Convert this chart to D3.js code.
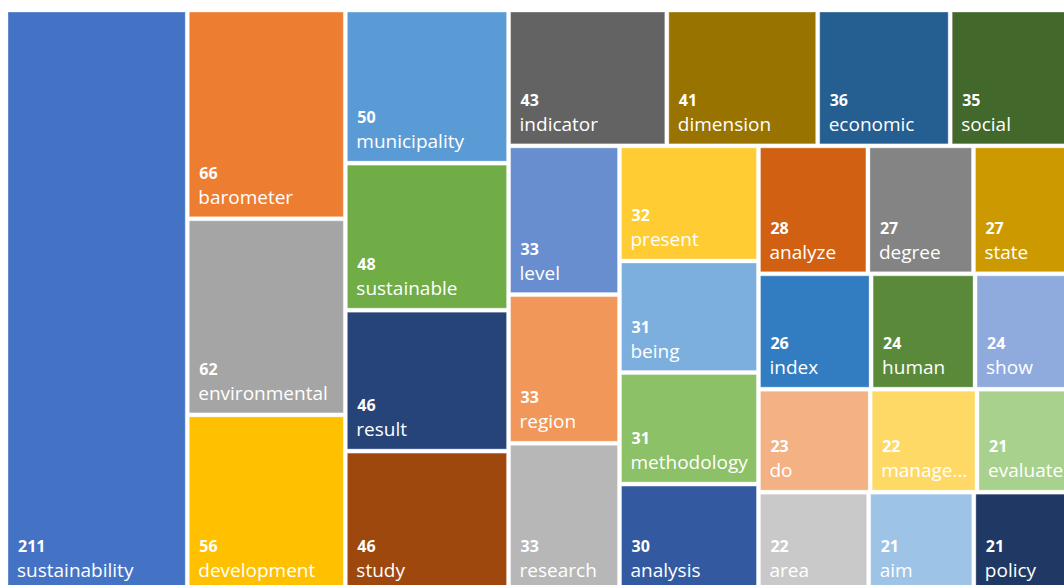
<!DOCTYPE html>
<html>
<head>
<meta charset="utf-8">
<script src="https://cdn.jsdelivr.net/npm/d3@7"></script>
<style>
  body { margin: 0; background: #fff; }
  svg { display: block; }
</style>
</head>
<body>
<div id="chart"></div>
<script>
// ============ DATA ============
const words = [
  "sustainability", "barometer", "environmental", "development",
  "municipality", "sustainable", "result", "study",
  "indicator", "dimension", "economic", "social",
  "level", "region", "research",
  "present", "being", "methodology", "analysis",
  "analyze", "degree", "state",
  "index", "human", "show",
  "do", "management", "evaluate",
  "area", "aim", "policy"
];

const counts = [
  211, 66, 62, 56,
  50, 48, 46, 46,
  43, 41, 36, 35,
  33, 33, 33,
  32, 31, 31, 30,
  28, 27, 27,
  26, 24, 24,
  23, 22, 21,
  22, 21, 21
];

// Office-style palette, one colour per tile
const palette = [
  "#4472C4", "#ED7D31", "#A5A5A5", "#FFC000",
  "#5B9BD5", "#70AD47", "#264478", "#9E480E",
  "#636363", "#997300", "#255E91", "#43682B",
  "#698ED0", "#F1975A", "#B7B7B7",
  "#FFCD33", "#7CAFDD", "#8CC168", "#335AA1",
  "#D26012", "#848484", "#CC9A00",
  "#327DC2", "#5A8A39", "#8FAADC",
  "#F4B183", "#FFD966", "#A9D18E",
  "#C9C9C9", "#9DC3E6", "#203864"
];

// How the tiles are grouped into strips (like Excel's layout)
const stripSizes = [1, 3, 4, 4, 3, 4, 3, 3, 3, 3];
const stripDirs = ["col", "col", "col", "row", "col", "col", "row", "row", "row", "row"];

// ============ LAYOUT ============
const width = 1064, height = 585;
const margin = {top: 12, left: 8};

const svg = d3.select("#chart")
  .append("svg")
  .attr("width", width)
  .attr("height", height);

const g = svg.append("g")
  .attr("transform", `translate(${margin.left},${margin.top})`);

// Custom tiling: columns/rows cut from the remaining space, then sliced/diced
function stripTile(parent, x0, y0, x1, y1) {
  const nodes = parent.children;
  let remaining = parent.value;
  let i = 0;
  stripSizes.forEach((n, s) => {
    const group = nodes.slice(i, i + n);
    if (!group.length) return;
    const sum = d3.sum(group, d => d.value);
    const frac = sum / remaining;
    const fake = {children: group, value: sum};
    if (stripDirs[s] === "col") {
      const xm = x0 + (x1 - x0) * frac;
      d3.treemapSlice(fake, x0, y0, xm, y1);
      x0 = xm;
    } else {
      const ym = y0 + (y1 - y0) * frac;
      d3.treemapDice(fake, x0, y0, x1, ym);
      y0 = ym;
    }
    remaining -= sum;
    i += n;
  });
}

const root = d3.hierarchy({children: words.map((w, i) => ({name: w, value: counts[i], idx: i}))})
  .sum(d => d.value || 0);

d3.treemap()
  .size([1069, 578])
  .paddingInner(4)
  .tile(stripTile)(root);

const cells = g.selectAll("g.cell")
  .data(root.leaves())
  .enter()
  .append("g")
  .attr("class", "cell");

cells.append("rect")
  .attr("x", d => d.x0)
  .attr("y", d => d.y0)
  .attr("width", d => d.x1 - d.x0)
  .attr("height", d => d.y1 - d.y0)
  .attr("fill", d => palette[d.data.idx])
  .attr("stroke", "rgba(255,255,255,0.35)")
  .attr("stroke-width", 1);

// Value label
cells.append("text")
  .attr("x", d => d.x0 + 10)
  .attr("y", d => d.y1 - 38)
  .attr("fill", "#fff")
  .style("font-family", "'Open Sans', sans-serif")
  .style("font-weight", "bold")
  .style("font-size", "16px")
  .text(d => d.data.value);

// Name label, truncated with "..." when too wide
cells.append("text")
  .attr("x", d => d.x0 + 9)
  .attr("y", d => d.y1 - 13)
  .attr("fill", "#fff")
  .style("font-family", "'Open Sans', sans-serif")
  .style("font-size", "19px")
  .text(d => d.data.name)
  .each(function(d) {
    const maxW = d.x1 - d.x0 - 13;
    const t = d3.select(this);
    let s = d.data.name;
    if (this.getComputedTextLength() <= maxW) return;
    while (s.length > 1) {
      s = s.slice(0, -1);
      t.text(s + "...");
      if (this.getComputedTextLength() <= maxW) break;
    }
  });
</script>
</body>
</html>
